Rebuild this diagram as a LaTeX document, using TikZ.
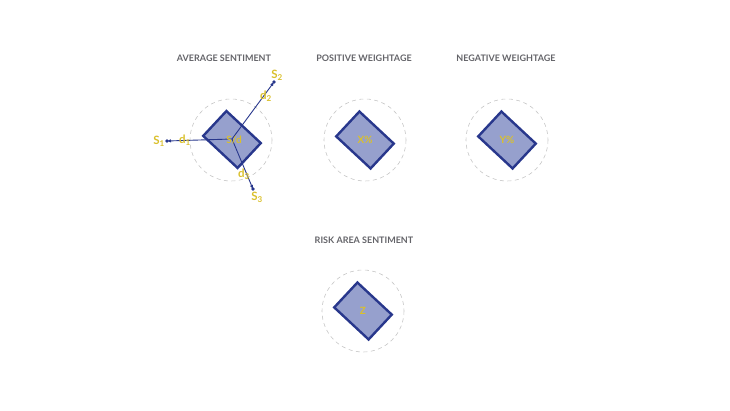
\documentclass[tikz,border=0pt]{standalone}
\usepackage{fontspec}
\setmainfont{Lato}
\usetikzlibrary{arrows.meta}
\definecolor{titlegray}{RGB}{100,100,105}
\definecolor{blockblue}{RGB}{40,55,140}
\definecolor{blockfill}{RGB}{150,160,205}
\definecolor{labelgold}{RGB}{218,192,45}

\begin{document}
\begin{tikzpicture}[x=1pt,y=-1pt,
  title/.style={font=\bfseries\fontsize{9}{10}\selectfont,text=titlegray},
  ring/.style={gray!45,dash pattern=on 4pt off 3.5pt,line width=0.6pt},
  block/.style={draw=blockblue,fill=blockfill,line width=2.4pt,
    minimum width=47pt,minimum height=34pt,inner sep=0pt,rotate=-43},
  val/.style={text=labelgold,font=\bfseries\fontsize{10}{11}\selectfont,inner sep=1pt},
  tag/.style={text=labelgold,font=\bfseries\fontsize{11.5}{12}\selectfont,inner sep=0pt},
  spoke/.style={blockblue,line width=0.9pt,-{Latex[length=4pt,width=3.5pt]}}]
\useasboundingbox (0,0) rectangle (730,411);

% titles
\node[title] (avgtitle) at (224,58) {AVERAGE SENTIMENT};
\node[title] (postitle) at (364,58) {POSITIVE WEIGHTAGE};
\node[title] (negtitle) at (506,58) {NEGATIVE WEIGHTAGE};
\node[title] (risktitle) at (364,240) {RISK AREA SENTIMENT};

% dashed rings and blocks
\foreach \n/\x/\y/\t in {pos/365/140/{X\%},neg/507/140/{Y\%},risk/363/311/{Z}}
{
  \draw[ring] (\x,\y) circle (41);
  \node[block] (\n) at (\x,\y) {};
  \node[val] (\n val) at (\n) {\t};
}

% average sentiment with its three spokes
\draw[ring] (231,140) circle (41);
\node[block] (avg) at (232,139.5) {};
\coordinate (hub) at (232,139);
\coordinate (s1end) at (167,141);
\coordinate (s2end) at (274,82);
\coordinate (s3end) at (253,189);
\foreach \e in {s1end,s2end,s3end}
{
  \draw[spoke] (hub) -- (\e);
  \fill[blockblue] (\e) circle (1.8);
}
\node[val] (avgval) at (234,140) {S/d};
\node[tag] (s1) at (159,141) {S\textsubscript{1}};
\node[tag] (d1) at (185,140) {d\textsubscript{1}};
\node[tag] (s2) at (277,75) {S\textsubscript{2}};
\node[tag] (d2) at (266,96) {d\textsubscript{2}};
\node[tag] (s3) at (257,197) {S\textsubscript{3}};
\node[tag] (d3) at (244,174) {d\textsubscript{3}};

\end{tikzpicture}
\end{document}
